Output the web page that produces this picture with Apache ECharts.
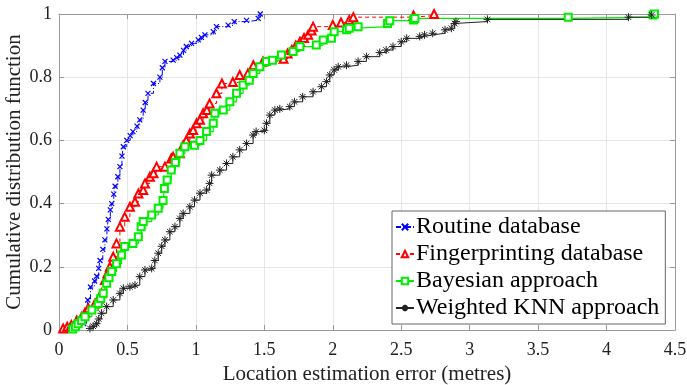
<!DOCTYPE html>
<html>
<head>
<meta charset="utf-8">
<script src="https://cdn.jsdelivr.net/npm/echarts@6/dist/echarts.min.js"></script>
<style>
  html, body { margin: 0; padding: 0; background: #fff; }
  #chart { width: 687px; height: 385px; }
</style>
</head>
<body>
<div id="chart"></div>
<script>
// Empirical CDF samples: location error (metres) and cumulative fraction
const seriesNames = ['Routine database', 'Fingerprinting database', 'Bayesian approach', 'Weighted KNN approach'];

const routineX = [0.18,0.20,0.21,0.23,0.26,0.275,0.29,0.30,0.32,0.335,0.35,0.36,0.375,0.385,0.40,0.41,0.43,0.445,0.46,0.47,0.495,0.52,0.54,0.57,0.59,0.615,0.63,0.65,0.69,0.737,0.755,0.774,0.834,0.86,0.883,0.91,0.93,0.968,1.017,1.04,1.066,1.127,1.15,1.236,1.28,1.37,1.455,1.47];
const routineY = [0.02,0.05,0.095,0.136,0.155,0.17,0.195,0.22,0.255,0.285,0.32,0.35,0.38,0.40,0.43,0.455,0.485,0.517,0.55,0.58,0.60,0.615,0.628,0.645,0.665,0.696,0.72,0.749,0.78,0.80,0.83,0.85,0.854,0.862,0.87,0.885,0.897,0.907,0.918,0.926,0.934,0.944,0.96,0.965,0.976,0.98,0.986,1.0];

const fingerX = [0.03,0.06,0.09,0.13,0.166,0.19,0.214,0.263,0.29,0.31,0.336,0.355,0.372,0.396,0.42,0.445,0.48,0.518,0.555,0.58,0.615,0.628,0.664,0.69,0.713,0.774,0.82,0.834,0.883,0.907,0.93,0.956,0.98,1.005,1.03,1.053,1.08,1.10,1.15,1.19,1.27,1.32,1.38,1.42,1.49,1.64,1.67,1.70,1.73,1.76,1.79,1.82,1.845,1.856,2.0,2.06,2.12,2.15,2.59,2.74];
const fingerY = [0.005,0.01,0.016,0.03,0.042,0.055,0.069,0.084,0.10,0.116,0.158,0.18,0.20,0.232,0.274,0.327,0.358,0.39,0.406,0.432,0.443,0.464,0.485,0.496,0.517,0.517,0.543,0.548,0.559,0.585,0.60,0.622,0.633,0.654,0.665,0.686,0.696,0.717,0.749,0.78,0.785,0.807,0.812,0.838,0.85,0.858,0.875,0.886,0.90,0.912,0.924,0.934,0.948,0.96,0.965,0.973,0.981,0.99,0.995,1.0];

const bayesX = [0.10,0.12,0.14,0.165,0.19,0.24,0.287,0.305,0.323,0.348,0.365,0.385,0.42,0.457,0.48,0.54,0.58,0.60,0.615,0.677,0.725,0.76,0.77,0.79,0.82,0.85,0.883,0.92,0.99,1.03,1.078,1.127,1.139,1.20,1.248,1.297,1.345,1.39,1.418,1.467,1.516,1.56,1.625,1.71,1.76,1.88,1.93,1.99,2.01,2.10,2.12,2.185,2.40,2.416,2.59,2.60,3.72,4.34,4.35];
const bayesY = [0.003,0.01,0.02,0.03,0.042,0.063,0.084,0.10,0.116,0.148,0.165,0.185,0.21,0.237,0.264,0.274,0.295,0.327,0.343,0.364,0.385,0.41,0.448,0.475,0.506,0.53,0.559,0.58,0.585,0.60,0.628,0.654,0.686,0.696,0.722,0.749,0.775,0.79,0.812,0.833,0.85,0.854,0.87,0.881,0.897,0.902,0.918,0.923,0.944,0.95,0.955,0.96,0.97,0.979,0.981,0.986,0.99,0.997,1.0];

const knnX = [0.226,0.25,0.275,0.29,0.31,0.348,0.396,0.445,0.47,0.518,0.555,0.59,0.628,0.677,0.70,0.725,0.75,0.774,0.81,0.847,0.883,0.907,0.956,0.99,1.03,1.078,1.10,1.115,1.175,1.224,1.27,1.32,1.37,1.418,1.44,1.50,1.516,1.54,1.577,1.613,1.686,1.72,1.78,1.856,1.917,1.954,1.978,2.01,2.04,2.10,2.185,2.246,2.343,2.39,2.44,2.50,2.54,2.635,2.67,2.73,2.82,2.866,2.89,2.90,3.13,4.16,4.33];
const knnY = [0.005,0.012,0.02,0.035,0.053,0.074,0.095,0.116,0.132,0.137,0.142,0.169,0.19,0.195,0.22,0.243,0.265,0.285,0.311,0.327,0.353,0.369,0.39,0.411,0.433,0.443,0.464,0.49,0.506,0.527,0.548,0.57,0.59,0.617,0.628,0.632,0.654,0.68,0.696,0.70,0.707,0.722,0.738,0.754,0.77,0.786,0.807,0.823,0.833,0.838,0.85,0.865,0.878,0.886,0.897,0.912,0.923,0.929,0.934,0.939,0.95,0.955,0.97,0.976,0.983,0.99,0.997];

const xTicks = { min: 0, max: 4.5, step: 0.5 };
const yTicks = { min: 0, max: 1, step: 0.2 };

const pair = (xs, ys) => xs.map((x, i) => [x, ys[i]]);

const SERIF = '"Liberation Serif", "Times New Roman", serif';
const crossPath = 'path://M0,0L10,10M10,0L0,10';
const starPath = 'path://M5,0L5,10M0,5L10,5M1.5,1.5L8.5,8.5M8.5,1.5L1.5,8.5';

const frame = '#9a9a9a';

const chart = echarts.init(document.getElementById('chart'), null, { renderer: 'canvas' });

const option = {
  backgroundColor: '#fff',
  animation: false,
  grid: { left: 59, right: 12, top: 14, bottom: 55, containLabel: false, outerBoundsMode: 'none' },
  legend: {
    orient: 'vertical',
    left: 392,
    top: 211,
    padding: [4, 6, 4, 3],
    itemGap: 3,
    itemWidth: 18,
    itemHeight: 8,
    backgroundColor: '#fff',
    borderColor: '#666',
    borderWidth: 1,
    borderRadius: 0,
    textStyle: { fontFamily: SERIF, fontSize: 24, color: '#000', padding: [0, 0, 0, -3], lineHeight: 24 },
    data: seriesNames
  },
  xAxis: [{
    type: 'value', min: xTicks.min, max: xTicks.max, interval: xTicks.step,
    name: 'Location estimation error (metres)', nameLocation: 'middle', nameGap: 33,
    nameTextStyle: { fontFamily: SERIF, fontSize: 21, color: '#222' },
    axisLine: { show: true, lineStyle: { color: frame, width: 1 } },
    axisTick: { show: true, inside: true, length: 5, lineStyle: { color: frame } },
    axisLabel: { fontFamily: SERIF, fontSize: 18, color: '#222', margin: 11 },
    splitLine: { show: true, lineStyle: { color: '#e6e6e6', width: 1 } }
  }, {
    type: 'value', position: 'top', min: xTicks.min, max: xTicks.max, interval: xTicks.step,
    axisLine: { show: true, onZero: false, lineStyle: { color: frame, width: 1 } },
    axisTick: { show: true, inside: true, length: 5, lineStyle: { color: frame } },
    axisLabel: { show: false }, splitLine: { show: false }
  }],
  yAxis: [{
    type: 'value', min: yTicks.min, max: yTicks.max, interval: yTicks.step,
    name: 'Cumulative distribution function', nameLocation: 'middle', nameGap: 34,
    nameMoveOverlap: false,
    nameTextStyle: { fontFamily: SERIF, fontSize: 21, color: '#222' },
    axisLine: { show: true, lineStyle: { color: frame, width: 1 } },
    axisTick: { show: true, inside: true, length: 5, lineStyle: { color: frame } },
    axisLabel: { fontFamily: SERIF, fontSize: 18, color: '#222', margin: 7 },
    splitLine: { show: true, lineStyle: { color: '#e6e6e6', width: 1 } }
  }, {
    type: 'value', position: 'right', min: yTicks.min, max: yTicks.max, interval: yTicks.step,
    axisLine: { show: true, onZero: false, lineStyle: { color: frame, width: 1 } },
    axisTick: { show: true, inside: true, length: 5, lineStyle: { color: frame } },
    axisLabel: { show: false }, splitLine: { show: false }
  }],
  series: [
    {
      name: seriesNames[0], type: 'line', step: 'end', data: pair(routineX, routineY),
      symbol: crossPath, symbolSize: 5, showAllSymbol: true,
      lineStyle: { color: '#0000ff', width: 1, type: [5, 2, 1, 2] },
      itemStyle: { color: '#0000ff', borderColor: '#0000ff', borderWidth: 1.2 }
    },
    {
      name: seriesNames[1], type: 'line', step: 'end', data: pair(fingerX, fingerY),
      symbol: 'emptyTriangle', symbolSize: 8, showAllSymbol: true,
      lineStyle: { color: '#ff0000', width: 1, type: [4, 3] },
      itemStyle: { color: '#ff0000', borderColor: '#ff0000', borderWidth: 1 }
    },
    {
      name: seriesNames[2], type: 'line', step: 'end', data: pair(bayesX, bayesY),
      symbol: 'emptyRect', symbolSize: 7, showAllSymbol: true,
      lineStyle: { color: '#00ee00', width: 1.2 },
      itemStyle: { color: '#00ee00', borderColor: '#00ee00', borderWidth: 1 }
    },
    {
      name: seriesNames[3], type: 'line', step: 'end', data: pair(knnX, knnY),
      symbol: starPath, symbolSize: 8, showAllSymbol: true,
      lineStyle: { color: '#222', width: 1 },
      itemStyle: { color: '#222', borderColor: '#222', borderWidth: 1 }
    }
  ]
};

chart.setOption(option);
</script>
</body>
</html>
